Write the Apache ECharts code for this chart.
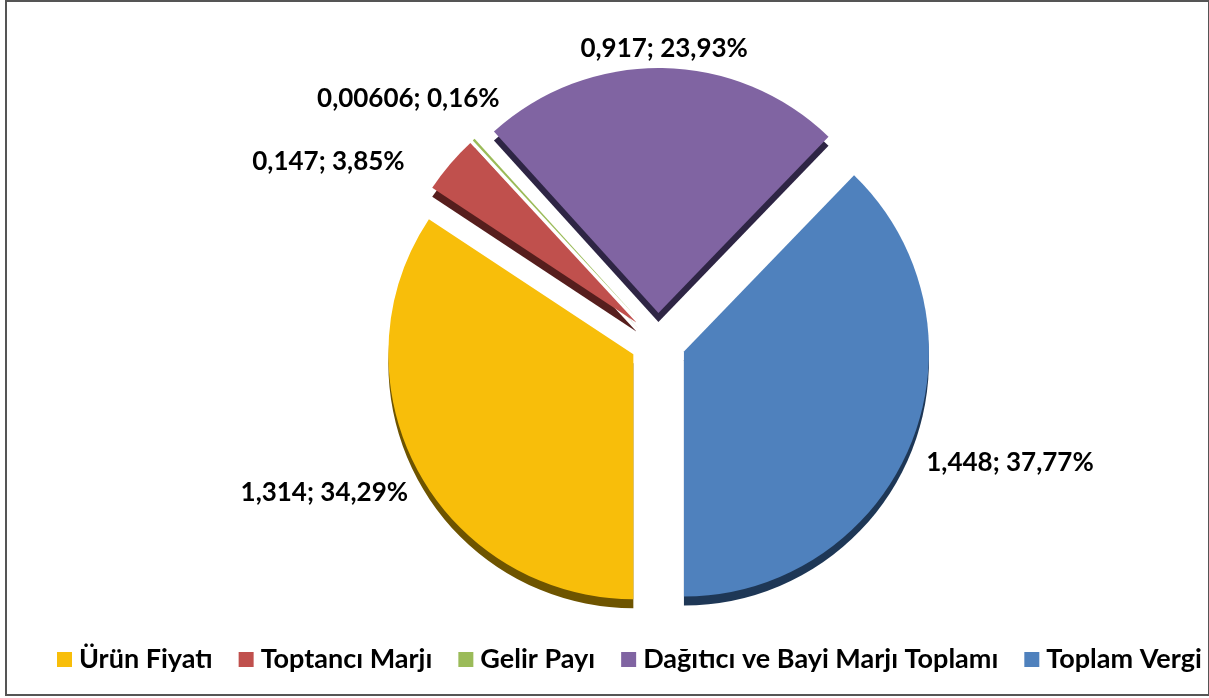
<!DOCTYPE html>
<html>
<head>
<meta charset="utf-8">
<script src="https://cdn.jsdelivr.net/npm/echarts@6/dist/echarts.min.js"></script>
<style>
  html, body { margin: 0; padding: 0; background: #fff; }
  #frame { position: absolute; left: 5px; top: 0; width: 1201px; height: 692px; border: 2px solid #555; }
  #chart { position: absolute; left: 0; top: 0; width: 1209px; height: 698px; }
</style>
</head>
<body>
<div id="frame"></div>
<div id="chart"></div>
<script>
// kalemler ve degerler
const names = ['Ürün Fiyatı', 'Toptancı Marjı', 'Gelir Payı', 'Dağıtıcı ve Bayi Marjı Toplamı', 'Toplam Vergi'];
const values = [1.314, 0.147, 0.00606, 0.917, 1.448];
const valueLabels = ['1,314', '0,147', '0,00606', '0,917', '1,448'];
const percentLabels = ['34,29', '3,85', '0,16', '23,93', '37,77'];
const colors = ['#F8BE0A', '#C0504D', '#9BBB59', '#8064A2', '#4F81BD'];
const sideColors = ['#6E5400', '#561E1D', '#3F5420', '#2E2544', '#1E3756'];

let chartDom = document.getElementById('chart');
let myChart = echarts.init(chartDom);
let option;

const center = [658, 341];
const radius = 245;
const offset = 28;
// etiketleri biraz kaydir (excel'deki gibi)
const labelNudge = [[12, 17], [-23, 0], [45, -32], [-93, -7], [-7, 15]];

let main = names.map(function(n, i){
    return { name: n, value: values[i], selected: true, itemStyle: { color: colors[i] } };
});
let side = names.map(function(n, i){
    return { name: n, value: values[i], selected: true, itemStyle: { color: sideColors[i] } };
});

option = {
    animation: false,
    legend: {
        data: names,
        top: 641,
        left: 52,
        itemWidth: 15,
        itemHeight: 15,
        itemGap: 26,
        icon: 'rect',
        selectedMode: false,
        textStyle: { fontFamily: 'Lato', fontWeight: 'bold', fontSize: 27, color: '#000', padding: [0, 0, 0, 2] }
    },
    series: [
        {
            type: 'pie',
            z: 2,
            center: center,
            radius: radius,
            startAngle: -90,
            clockwise: true,
            selectedMode: 'multiple',
            selectedOffset: offset,
            avoidLabelOverlap: true,
            label: {
                show: true,
                position: 'outside',
                fontFamily: 'Lato',
                fontWeight: 'bold',
                fontSize: 26,
                color: '#000',
                formatter: function(p){
                    return valueLabels[p.dataIndex] + '; ' + percentLabels[p.dataIndex] + '%';
                }
            },
            labelLine: { show: false, length: 12, length2: 6 },
            labelLayout: function(p){
                return { dx: labelNudge[p.dataIndex][0], dy: labelNudge[p.dataIndex][1] };
            },
            emphasis: { disabled: true },
            data: main
        },
        {
            type: 'pie',
            z: 1,
            silent: true,
            center: [center[0], center[1] + 9],
            radius: radius,
            startAngle: -90,
            clockwise: true,
            selectedMode: 'multiple',
            selectedOffset: offset,
            label: { show: false },
            labelLine: { show: false },
            emphasis: { disabled: true },
            data: side
        }
    ]
};

option && myChart.setOption(option);
</script>
</body>
</html>
